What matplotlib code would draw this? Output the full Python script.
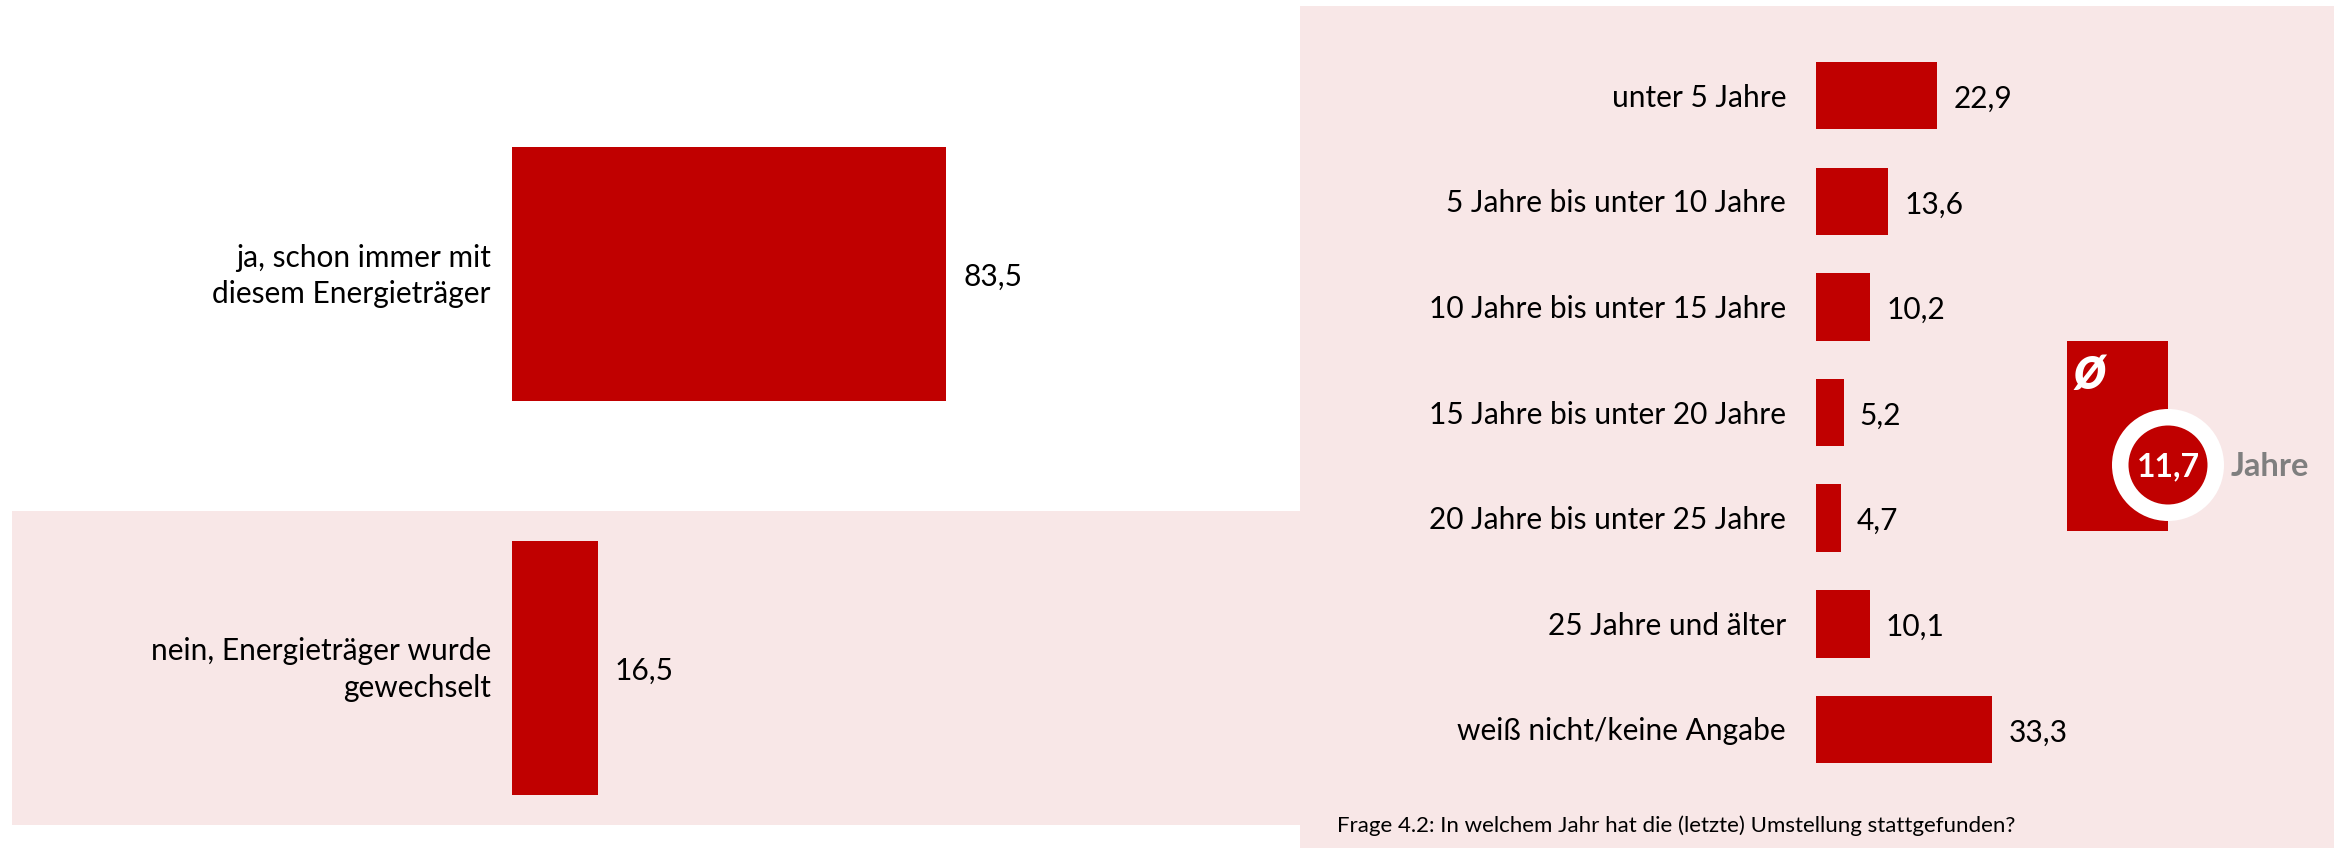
import matplotlib
matplotlib.use("Agg")
import matplotlib.pyplot as plt
from matplotlib.patches import Rectangle, Circle

plt.rcParams["font.family"] = ["Lato", "DejaVu Sans"]

# --- data ---------------------------------------------------------------
left_categories = ["ja, schon immer mit\ndiesem Energieträger",
                   "nein, Energieträger wurde\ngewechselt"]
left_values = [83.5, 16.5]

right_categories = ["unter 5 Jahre",
                    "5 Jahre bis unter 10 Jahre",
                    "10 Jahre bis unter 15 Jahre",
                    "15 Jahre bis unter 20 Jahre",
                    "20 Jahre bis unter 25 Jahre",
                    "25 Jahre und älter",
                    "weiß nicht/keine Angabe"]
right_values = [22.9, 13.6, 10.2, 5.2, 4.7, 10.1, 33.3]

average_years = 11.7
question = "Frage 4.2: In welchem Jahr hat die (letzte) Umstellung stattgefunden?"

# --- style --------------------------------------------------------------
RED = "#C00000"
PINK = "#F8E7E7"
GREY = "#7F7F7F"
W, H = 2348, 848
DPI = 100


def fmt(v):
    return f"{v:.1f}".replace(".", ",")


fig = plt.figure(figsize=(W / DPI, H / DPI), dpi=DPI)
fig.patch.set_facecolor("white")

# background / decoration layer in pixel units
bg = fig.add_axes([0, 0, 1, 1])
bg.set_xlim(0, W)
bg.set_ylim(H, 0)
bg.axis("off")
bg.add_patch(Rectangle((12, 511), 1288, 314, color=PINK, lw=0))
bg.add_patch(Rectangle((1300, 6), 1034, 842, color=PINK, lw=0))

# average badge
bg.add_patch(Rectangle((2067, 341), 101, 190, color=RED, lw=0))
bg.add_patch(Circle((2168, 465), 56, color="white", lw=0))
bg.add_patch(Circle((2168, 465), 39.5, color=RED, lw=0))
bg.text(2090, 370, "ø", color="white", fontsize=46, fontweight="bold",
        fontstyle="italic", ha="center", va="center")
bg.text(2168, 467, fmt(average_years), color="white", fontsize=23,
        fontweight="bold", ha="center", va="center")
bg.text(2231, 467, "Jahre", color=GREY, fontsize=23.5, fontweight="bold",
        ha="left", va="center")


def bar_panel(left_px, right_px, scale, first_center, spacing, bar_px,
              cats, vals, label_gap, value_gap):
    ax = fig.add_axes([left_px / W, 0, (right_px - left_px) / W, 1])
    ax.set_facecolor("none")
    ax.set_xlim(0, (right_px - left_px) / scale)
    top = -first_center / spacing
    bottom = (H - first_center) / spacing
    ax.set_ylim(bottom, top)
    ax.axis("off")
    pos = list(range(len(vals)))
    ax.barh(pos, vals, height=bar_px / spacing, color=RED, lw=0)
    for i, (c, v) in enumerate(zip(cats, vals)):
        ax.annotate(c, xy=(0, i), xytext=(-label_gap, -2),
                    textcoords="offset pixels", ha="right", va="center",
                    multialignment="right", fontsize=21.5, color="black",
                    linespacing=1.38, annotation_clip=False)
        ax.annotate(fmt(v), xy=(v, i), xytext=(value_gap, -3),
                    textcoords="offset pixels", ha="left", va="center",
                    fontsize=21.5, color="black", annotation_clip=False)
    return ax


bar_panel(512, 1300, 5.2, 274, 393.5, 254, left_categories, left_values,
          21, 17)
bar_panel(1816, 2334, 5.3, 95.8, 105.6, 67.4, right_categories,
          right_values, 30, 16)

fig.text(1337 / W, 1 - 826 / H, question, fontsize=16, color="black",
         ha="left", va="center")

fig.savefig("out.png", dpi=DPI)
